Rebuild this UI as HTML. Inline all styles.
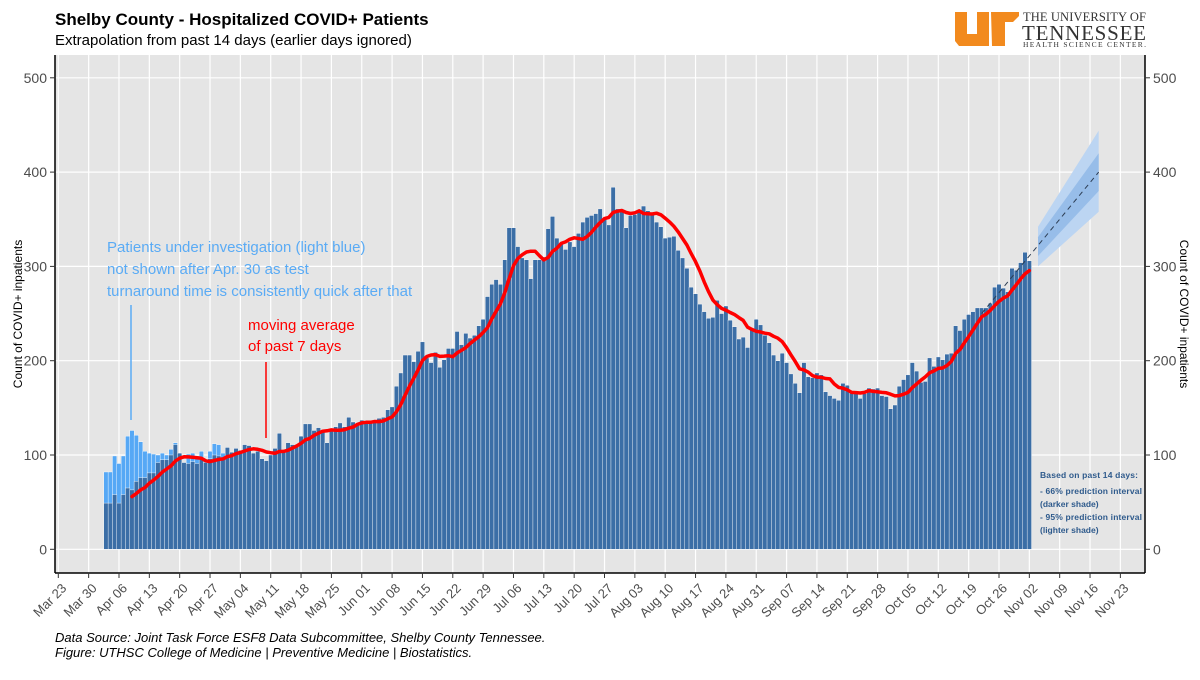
<!DOCTYPE html>
<html><head><meta charset="utf-8"><style>
body{margin:0;background:#fff;font-family:"Liberation Sans",sans-serif}
</style></head><body>
<svg id="chart" width="1200" height="675" xmlns="http://www.w3.org/2000/svg" font-family="Liberation Sans, sans-serif">
<text x="55" y="25" font-size="17" font-weight="bold" fill="#000">Shelby County - Hospitalized COVID+ Patients</text>
<text x="55" y="45" font-size="15" fill="#000">Extrapolation from past 14 days (earlier days ignored)</text>
<g>
<path d="M955,12 h12 v22 h10 v-22 h12 v34 h-30 l-4,-5 z" fill="#f28a1e"/>
<path d="M991,12 h28 v4 l-6,6 h-8 v24 h-13 z" fill="#f28a1e"/>
<text x="1023" y="21" font-size="12.5" font-family="Liberation Serif, serif" fill="#333" textLength="123">THE UNIVERSITY OF</text>
<text x="1022" y="40" font-size="21" font-family="Liberation Serif, serif" fill="#333" textLength="124">TENNESSEE</text>
<text x="1023" y="47" font-size="7.5" font-family="Liberation Serif, serif" fill="#333" textLength="123">HEALTH SCIENCE CENTER.</text>
</g>
<rect x="55" y="55" width="1090" height="518" fill="#e5e5e5"/>
<g id="grid"></g>
<g id="bars"></g>
<g id="fc"></g>
<g id="ma"></g>
<line x1="55" y1="55" x2="55" y2="573" stroke="#000" stroke-width="1.5"/>
<line x1="1145" y1="55" x2="1145" y2="573" stroke="#000" stroke-width="1.5"/>
<line x1="55" y1="573" x2="1145" y2="573" stroke="#000" stroke-width="1.5"/>
<g id="axes"></g>
<text transform="translate(22,314) rotate(-90)" text-anchor="middle" font-size="12">Count of COVID+ inpatients</text>
<text transform="translate(1180,314) rotate(90)" text-anchor="middle" font-size="12">Count of COVID+ inpatients</text>
<g fill="#5aabf5" font-size="15">
<text x="107" y="252">Patients under investigation (light blue)</text>
<text x="107" y="274">not shown after Apr. 30 as test</text>
<text x="107" y="296">turnaround time is consistently quick after that</text>
<line x1="131" y1="305" x2="131" y2="420" stroke="#5aabf5" stroke-width="1.5"/>
</g>
<g fill="#ff0000" font-size="15">
<text x="248" y="330">moving average</text>
<text x="248" y="351">of past 7 days</text>
<line x1="266" y1="362" x2="266" y2="438" stroke="#ff0000" stroke-width="1.5"/>
</g>
<g fill="#2e5a8c" font-size="8.5" font-weight="bold">
<text x="1040" y="478" textLength="98">Based on past 14 days:</text>
<text x="1040" y="494" textLength="102">- 66% prediction interval</text>
<text x="1040" y="507">(darker shade)</text>
<text x="1040" y="520" textLength="102">- 95% prediction interval</text>
<text x="1040" y="533">(lighter shade)</text>
</g>
<g font-size="13" font-style="italic" fill="#000">
<text x="55" y="642">Data Source: Joint Task Force ESF8 Data Subcommittee, Shelby County Tennessee.</text>
<text x="55" y="657">Figure: UTHSC College of Medicine | Preventive Medicine | Biostatistics.</text>
</g>
</svg>
<script>
const firstDay = 11; // days after Mar 23
const darkValues = [49,49,58,49,58,65,63,72,76,76,81,81,92,95,95,100,111,102,92,91,93,91,96,92,96,100,99,97,
108,103,107,105,111,110,102,104,96,94,100,107,123,103,113,111,110,120,133,133,126,129,126,113,126,130,134,130,
140,135,132,137,135,134,136,
139,140,148,151,173,187,206,206,199,210,220,203,198,209,193,201,213,213,231,217,229,224,227,237,244,268,281,286,281,307,341,341,321,309,307,287,307,307,
310,340,353,330,324,318,326,321,335,347,352,354,356,361,350,344,384,361,359,341,354,355,359,364,359,357,347,342,330,331,332,317,309,298,278,271,260,252,245,
246,264,250,258,243,236,223,225,214,233,244,238,227,219,206,200,208,198,186,176,166,198,183,182,187,185,167,163,160,158,176,174,167,165,160,165,171,170,171,163,162,149,153,173,180,185,198,189,177,178,203,194,204,201,207,208,237,232,244,249,252,256,256,256,261,278,281,277,273,298,296,304,315,306];
const puiTotals = [82,82,99,91,99,120,126,121,114,104,102,101,100,102,100,106,113,102,92,101,102,99,104,95,104,112,111,102];
const xTickLabels = ["Mar 23","Mar 30","Apr 06","Apr 13","Apr 20","Apr 27","May 04","May 11","May 18","May 25","Jun 01","Jun 08","Jun 15","Jun 22","Jun 29","Jul 06","Jul 13","Jul 20","Jul 27","Aug 03","Aug 10","Aug 17","Aug 24","Aug 31","Sep 07","Sep 14","Sep 21","Sep 28","Oct 05","Oct 12","Oct 19","Oct 26","Nov 02","Nov 09","Nov 16","Nov 23"];
const yTicks = [0,100,200,300,400,500];
const forecastDays = [226,240];
const forecastCenter = [321,400];
const inner66 = [[311,331],[380,420]];
const outer95 = [[300,342],[358,444]];
const trendLine = [[213,250],[240,400]];

const NS="http://www.w3.org/2000/svg";
const X=d=>58.3+d*4.335, Y=v=>549.3-v*0.943;
function mk(tag,attrs,parent){const e=document.createElementNS(NS,tag);for(const k in attrs)e.setAttribute(k,attrs[k]);document.getElementById(parent).appendChild(e);return e;}
yTicks.forEach(v=>{
  const g=mk('line',{x1:55,x2:1145,y1:Y(v),y2:Y(v),stroke:'#fff','stroke-width':1.2},'grid');
  
  
  mk('line',{x1:50,x2:55,y1:Y(v),y2:Y(v),stroke:'#333'},'axes');
  mk('line',{x1:1145,x2:1150,y1:Y(v),y2:Y(v),stroke:'#333'},'axes');
  const t=mk('text',{x:47,y:Y(v)+5,'text-anchor':'end','font-size':14,fill:'#4d4d4d'},'axes');t.textContent=v;
  
  
  const t2=mk('text',{x:1153,y:Y(v)+5,'font-size':14,fill:'#4d4d4d'},'axes');t2.textContent=v;
  
  
});
xTickLabels.forEach((s,i)=>{
  const x=X(i*7);
  const g=mk('line',{x1:x,x2:x,y1:55,y2:573,stroke:'#fff','stroke-width':1.2},'grid');
  
  
  mk('line',{x1:x,x2:x,y1:573,y2:578,stroke:'#333'},'axes');
  const t=mk('text',{x:x+9,y:589,'text-anchor':'end','font-size':13,fill:'#4d4d4d',transform:`rotate(-45 ${x+9} 589)`},'axes');t.textContent=s;
  
  
});
puiTotals.forEach((v,i)=>{
  const r=mk('rect',{x:X(firstDay+i)-2.2,y:Y(v),width:4.4,height:Y(0)-Y(v),fill:'#56a8f5',stroke:'#fff','stroke-width':0.4},'bars');
  
  
});
darkValues.forEach((v,i)=>{
  const r=mk('rect',{x:X(firstDay+i)-2.2,y:Y(v),width:4.4,height:Y(0)-Y(v),fill:'#3b6ea6',stroke:'#fff','stroke-width':0.4},'bars');
  
  
});
function band(b,fill,name){
  const p=`M${X(forecastDays[0])},${Y(b[0][1])} L${X(forecastDays[1])},${Y(b[1][1])} L${X(forecastDays[1])},${Y(b[1][0])} L${X(forecastDays[0])},${Y(b[0][0])} Z`;
  const e=mk('path',{d:p,fill:fill},'fc');
  
  
}
band(outer95,'#bcd5f2','prediction-interval-95');
band(inner66,'#97bde9','prediction-interval-66');
const tl=mk('line',{x1:X(trendLine[0][0]),y1:Y(trendLine[0][1]),x2:X(trendLine[1][0]),y2:Y(trendLine[1][1]),stroke:'#2d3e55','stroke-width':1,'stroke-dasharray':'5,4'},'fc');


let pts=[];
for(let i=6;i<darkValues.length;i++){
  let s=0;for(let k=i-6;k<=i;k++)s+=darkValues[k];
  pts.push(X(firstDay+i).toFixed(1)+','+Y(s/7).toFixed(1));
}
const ma=mk('polyline',{points:pts.join(' '),fill:'none',stroke:'#ff0000','stroke-width':3.5,'stroke-linejoin':'round','stroke-linecap':'round'},'ma');


</script>
</body></html>
